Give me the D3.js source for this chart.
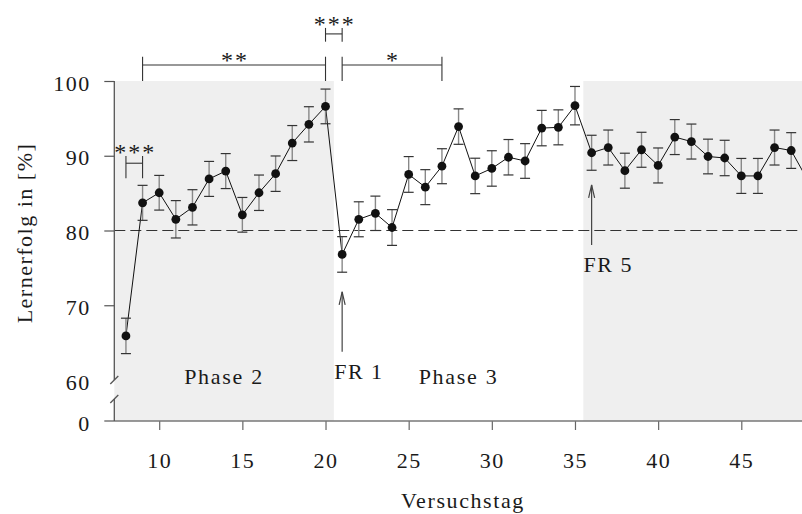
<!DOCTYPE html>
<html>
<head>
<meta charset="utf-8">
<script src="https://cdn.jsdelivr.net/npm/d3@7/dist/d3.min.js"></script>
<style>
  html, body { margin: 0; padding: 0; background: #fff; }
  svg { display: block; }
  text { font-family: "Liberation Serif", "Times New Roman", serif; fill: #1a1a1a; }
</style>
</head>
<body>
<svg id="chart" width="802" height="514"></svg>
<script>
// Versuchstage (experiment days) and mean learning success in percent
const days = [8, 9, 10, 11, 12, 13, 14, 15, 16, 17, 18, 19, 20, 21, 22, 23, 24, 25, 26, 27, 28,
              29, 30, 31, 32, 33, 34, 35, 36, 37, 38, 39, 40, 41, 42, 43, 44, 45, 46, 47, 48, 49];
const meanSuccess = [65.9, 83.7, 85.05, 81.5, 83.1, 86.9, 87.95, 82.1, 85.05, 87.6, 91.7, 94.2, 96.6,
                     76.8, 81.5, 82.3, 80.4, 87.5, 85.8, 88.6, 93.9, 87.3, 88.3, 89.8, 89.3, 93.7, 93.8,
                     96.7, 90.4, 91.1, 88.0, 90.8, 88.7, 92.5, 91.9, 89.9, 89.7, 87.3, 87.3, 91.1, 90.7, 86.7];
const semSuccess = [2.37, 2.34, 2.32, 2.5, 2.36, 2.34, 2.34, 2.32, 2.37, 2.37, 2.34, 2.36, 2.32,
                    2.38, 2.34, 2.3, 2.39, 2.39, 2.34, 2.34, 2.37, 2.37, 2.37, 2.37, 2.32, 2.37, 2.34,
                    2.57, 2.34, 2.34, 2.34, 2.34, 2.34, 2.34, 2.34, 2.32, 2.37, 2.34, 2.34, 2.34, 2.39, 2.35];

// tick labels
const xTicks = [10, 15, 20, 25, 30, 35, 40, 45];
const yTicksUpper = [60, 70, 80, 90, 100];
const yTickLower = [0];
const criterion = 80;

// phases (shaded / unshaded blocks)
const phases = [
  { from: null, to: 20.5, label: "Phase 2", shaded: true },
  { from: 20.5, to: 35.5, label: "Phase 3", shaded: false },
  { from: 35.5, to: null, label: "", shaded: true }
];

// schedule changes marked with arrows
const scheduleMarks = [ { day: 21, label: "FR 1" }, { day: 36, label: "FR 5" } ];

// significance comparisons
const comparisons = [
  { from: 8, to: 9, label: "***" },
  { from: 9, to: 20, label: "**" },
  { from: 20, to: 21, label: "***" },
  { from: 21, to: 27, label: "*" }
];

const data = days.map((d, i) => ({ day: d, mean: meanSuccess[i], sem: semSuccess[i] }));

const svg = d3.select("#chart");
const W = 802;

const x = d3.scaleLinear().domain([7.3, 48.65]).range([114.3, 802]);
const y = d3.scaleLinear().domain([60, 100]).range([380, 81]);      // upper (broken) segment
const yLow = d3.scaleLinear().domain([0, 2]).range([421, 399]);     // lower segment below the break

const axisColor = "#555";
const xMin = x.domain()[0], xMax = x.domain()[1];

// shaded phase blocks
svg.append("g").selectAll("rect")
  .data(phases.filter(p => p.shaded))
  .join("rect")
  .attr("x", p => x(p.from === null ? xMin : p.from))
  .attr("width", p => x(p.to === null ? xMax : p.to) - x(p.from === null ? xMin : p.from))
  .attr("y", y(100))
  .attr("height", yLow(0) - y(100))
  .attr("fill", "#efefef");

// criterion line
svg.append("line")
  .attr("x1", x(xMin)).attr("x2", W)
  .attr("y1", y(criterion)).attr("y2", y(criterion))
  .attr("stroke", "#333").attr("stroke-width", 1)
  .attr("stroke-dasharray", "11,5");

// x axis
const gx = svg.append("g")
  .attr("transform", `translate(0,${yLow(0)})`)
  .call(d3.axisBottom(x).tickValues(xTicks).tickSize(9).tickPadding(22).tickFormat(d3.format("d")));
gx.select(".domain").remove();
gx.selectAll(".tick line").attr("stroke", "#666").attr("stroke-width", 1.2);
gx.selectAll(".tick text").attr("font-size", 22).attr("letter-spacing", "1.5px")
  .attr("font-family", "Liberation Serif").attr("fill", "#1a1a1a");
svg.append("line")
  .attr("x1", x(xMin) - 10).attr("x2", W)
  .attr("y1", yLow(0)).attr("y2", yLow(0))
  .attr("stroke", "#777").attr("stroke-width", 1.3);

// y axis, upper segment
const gy = svg.append("g")
  .attr("transform", `translate(${x(xMin)},0)`)
  .call(d3.axisLeft(y).tickValues(yTicksUpper).tickSize(10).tickPadding(13.5).tickFormat(d3.format("d")));
gy.select(".domain").remove();
gy.selectAll(".tick line").attr("stroke", axisColor).attr("stroke-width", 1.2)
  .attr("x2", d => d === 60 ? 0 : -10);
gy.selectAll(".tick text").attr("font-size", 22).attr("letter-spacing", "1.5px")
  .attr("dy", "0.41em").attr("font-family", "Liberation Serif").attr("fill", "#1a1a1a");

// y axis, lower segment (0)
const gy0 = svg.append("g")
  .attr("transform", `translate(${x(xMin)},0)`)
  .call(d3.axisLeft(yLow).tickValues(yTickLower).tickSize(0).tickPadding(23.5).tickFormat(d3.format("d")));
gy0.select(".domain").remove();
gy0.selectAll(".tick text").attr("font-size", 22).attr("letter-spacing", "1.5px")
  .attr("dy", "0.41em").attr("font-family", "Liberation Serif").attr("fill", "#1a1a1a");

// axis spine with break marks
const ax = x(xMin);
svg.append("line").attr("x1", ax).attr("x2", ax).attr("y1", y(100)).attr("y2", y(60))
  .attr("stroke", axisColor).attr("stroke-width", 1.3);
svg.append("line").attr("x1", ax).attr("x2", ax).attr("y1", yLow(2)).attr("y2", yLow(0))
  .attr("stroke", axisColor).attr("stroke-width", 1.3);
[y(60), yLow(2)].forEach(yy => {
  svg.append("line")
    .attr("x1", ax - 4).attr("y1", yy + 4).attr("x2", ax + 4).attr("y2", yy - 4)
    .attr("stroke", axisColor).attr("stroke-width", 1.3);
});

// connecting line
svg.append("path")
  .datum(data)
  .attr("fill", "none").attr("stroke", "#111").attr("stroke-width", 1)
  .attr("d", d3.line().x(d => x(d.day)).y(d => y(d.mean)));

// error bars
const eb = svg.append("g").selectAll("g").data(data).join("g");
eb.append("line")
  .attr("x1", d => x(d.day)).attr("x2", d => x(d.day))
  .attr("y1", d => y(d.mean + d.sem)).attr("y2", d => y(d.mean - d.sem))
  .attr("stroke", "#888").attr("stroke-width", 1.4);
eb.selectAll("line.cap")
  .data(d => [d.mean + d.sem, d.mean - d.sem].map(v => ({ day: d.day, v })))
  .join("line").attr("class", "cap")
  .attr("x1", d => x(d.day) - 5).attr("x2", d => x(d.day) + 5)
  .attr("y1", d => y(d.v)).attr("y2", d => y(d.v))
  .attr("stroke", "#333").attr("stroke-width", 1.2);

// mean points
svg.append("g").selectAll("circle").data(data).join("circle")
  .attr("cx", d => x(d.day)).attr("cy", d => y(d.mean)).attr("r", 4.4)
  .attr("fill", "#111");

// phase labels
svg.append("g").selectAll("text")
  .data(phases.filter(p => p.label))
  .join("text")
  .attr("x", p => (x(p.from === null ? xMin : p.from) + x(p.to === null ? xMax : p.to)) / 2)
  .attr("y", 384)
  .attr("text-anchor", "middle")
  .attr("font-size", 22).attr("letter-spacing", "1.7px")
  .text(p => p.label);

// schedule arrows
const arrowTips = { 21: 71.8, 36: 86.1 };
scheduleMarks.forEach(m => {
  const ax0 = x(m.day);
  const tip = y(arrowTips[m.day]);
  const g = svg.append("g").attr("stroke", "#444").attr("stroke-width", 1.2).attr("fill", "none");
  g.append("line").attr("x1", ax0).attr("x2", ax0).attr("y1", tip).attr("y2", tip + 60);
  g.append("path").attr("d", `M${ax0 - 3},${tip + 13} L${ax0},${tip} L${ax0 + 3},${tip + 13}`);
  svg.append("text")
    .attr("x", ax0 - 8).attr("y", tip + 87.5)
    .attr("font-size", 22).attr("letter-spacing", "1.5px")
    .text(m.label);
});

// significance brackets: bar level, tick extent, and star height above the bar (px)
const bracketLayout = [
  { line: 89.0, top: 89.97, bottom: 86.98, lift: 14.8 },
  { line: 102.14, top: 103.25, bottom: 100, lift: 8.3 },
  { line: 106.3, top: 107.1, bottom: 105.26, lift: 14 },
  { line: 102.14, top: 103.25, bottom: 100, lift: 8.3 }
];
comparisons.forEach((c, i) => {
  const L = bracketLayout[i];
  const g = svg.append("g").attr("stroke", "#333").attr("stroke-width", 1.1);
  g.append("line").attr("x1", x(c.from)).attr("x2", x(c.to)).attr("y1", y(L.line)).attr("y2", y(L.line));
  [c.from, c.to].forEach(d => {
    g.append("line").attr("x1", x(d)).attr("x2", x(d)).attr("y1", y(L.top)).attr("y2", y(L.bottom));
  });
  svg.append("text")
    .attr("x", (x(c.from) + x(c.to)) / 2 + 1)
    .attr("y", y(L.line) - L.lift + 11.7)
    .attr("text-anchor", "middle")
    .attr("font-size", 24).attr("letter-spacing", "2px")
    .text(c.label);
});

// axis titles
svg.append("text")
  .attr("x", 463).attr("y", 508)
  .attr("text-anchor", "middle")
  .attr("font-size", 22).attr("letter-spacing", "1.6px")
  .text("Versuchstag");
svg.append("text")
  .attr("transform", "translate(32.3,233) rotate(-90)")
  .attr("text-anchor", "middle")
  .attr("font-size", 22).attr("letter-spacing", "1.5px")
  .text("Lernerfolg in [%]");
</script>
</body>
</html>
